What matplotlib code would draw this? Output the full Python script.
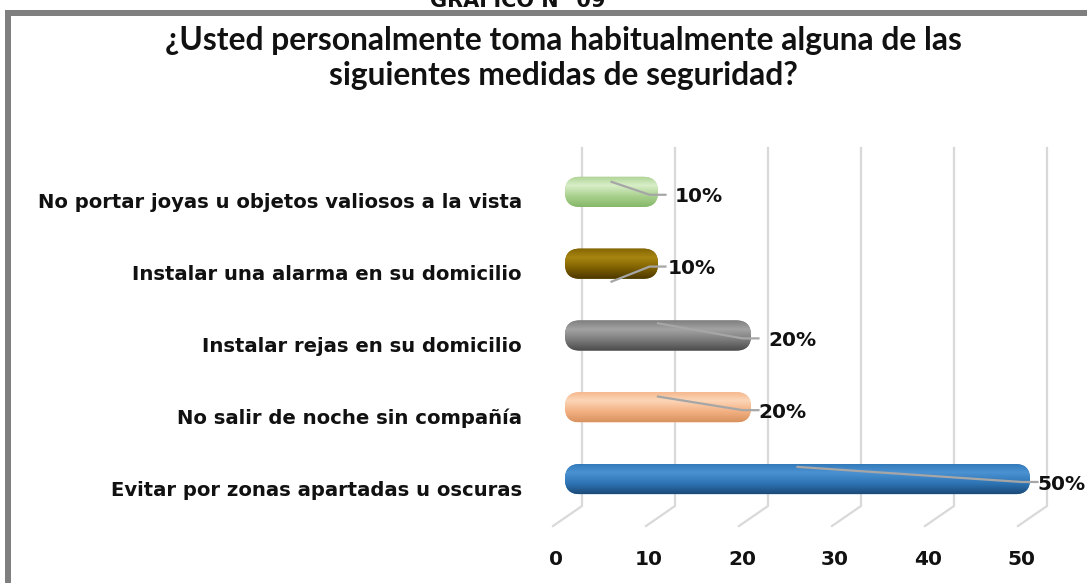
import numpy as np
import matplotlib
matplotlib.use("Agg")
import matplotlib.pyplot as plt
from matplotlib.patches import FancyBboxPatch, Rectangle
from matplotlib.transforms import ScaledTranslation, IdentityTransform
from matplotlib.colors import to_rgb

# ---------------- data ----------------
header = "GRÁFICO N° 09"
title = "¿Usted personalmente toma habitualmente alguna de las\nsiguientes medidas de seguridad?"
categories = [
    "No portar joyas u objetos valiosos a la vista",
    "Instalar una alarma en su domicilio",
    "Instalar rejas en su domicilio",
    "No salir de noche sin compañía",
    "Evitar por zonas apartadas u oscuras",
]
values = [10, 10, 20, 20, 50]
value_labels = ["10%", "10%", "20%", "20%", "50%"]
x_ticks = [0, 10, 20, 30, 40, 50]
x_tick_labels = ["0", "10", "20", "30", "40", "50"]

# ---------------- style ----------------
base_cols = ["#a9d08e", "#7f6000", "#7a7a7a", "#f4b183", "#2e75b6"]
light_cols = ["#d8eec8", "#a88612", "#a3a3a3", "#fcd6b8", "#4b92d3"]
dark_cols = ["#86b869", "#4a3800", "#4a4a4a", "#d9935f", "#1c4a78"]
leader_dy = [0.14, -0.25, 0.17, 0.15, 0.17]
label_dx_px = [17, 10, 17, 7, 7]

W, H, DPI = 1087, 583, 100
fig = plt.figure(figsize=(W / DPI, H / DPI), dpi=DPI)
fig.patch.set_facecolor("white")

# frame
fig.add_artist(Rectangle((8 / W, -0.1), 1.2, 1 - 13 / H + 0.1, transform=fig.transFigure,
                         fill=False, edgecolor="#7f7f7f", linewidth=6 * 72 / DPI, clip_on=False))

# clipped header + title
fig.text(518 / W, 1 - 7 / H, header, ha="center", va="baseline", fontsize=15,
         fontweight="bold", family="DejaVu Sans", color="#111111")
ttl = fig.text(563 / W, 1 - 58 / H, title, ha="center", va="center", fontsize=20,
               fontweight="bold", family="Lato", linespacing=1.25, color="#111111")

ax = fig.add_axes([565 / W, 1 - 515 / H, (1030 - 565) / W, (515 - 156) / H])
ax.set_xlim(0, 50)
ax.set_ylim(-0.5, 4.5)
ax.set_facecolor("none")
for s in ax.spines.values():
    s.set_visible(False)

ypos = np.arange(len(categories))[::-1]
bars = ax.barh(ypos, values, height=0.42, color="none", edgecolor="none")

fig.canvas.draw()
p0 = ax.transData.transform((0, 0))
sx = ax.transData.transform((1, 0))[0] - p0[0]
sy = ax.transData.transform((0, 1))[1] - p0[1]
aspect = sx / sy

# 3D-ish gridlines
for t in x_ticks:
    xd = ax.transData.transform((t, 0))[0]
    ax.plot([xd + 17, xd + 17, xd - 12], [H - 148, H - 506, H - 526], color="#d9d9d9",
            lw=1.6, transform=IdentityTransform(), clip_on=False, zorder=1)

# cylinder bars
for i, rect in enumerate(bars):
    x0, y0, w, h = rect.get_x(), rect.get_y(), rect.get_width(), rect.get_height()
    r = 0.97 * (h * sy / 2) / sx
    patch = FancyBboxPatch((x0, y0), w, h, boxstyle=f"round,pad=0,rounding_size={r}",
                           mutation_aspect=aspect, fc=base_cols[i], ec="none", zorder=3)
    ax.add_patch(patch)
    b, l, d = (np.array(to_rgb(c)) for c in (base_cols[i], light_cols[i], dark_cols[i]))
    pos = np.linspace(0, 1, 64)
    stops = [0, 0.3, 0.65, 1.0]
    cols = [b * 0.9 + l * 0.1, l, b, d]
    grad = np.stack([np.interp(pos, stops, [c[k] for c in cols]) for k in range(3)], axis=-1)
    im = ax.imshow(grad[:, None, :], extent=(x0, x0 + w, y0, y0 + h), aspect="auto",
                   origin="upper", interpolation="bilinear", zorder=3.5)
    im.set_clip_path(patch)
    rect.set_visible(False)

ax.set_xlim(0, 50)
ax.set_ylim(-0.5, 4.5)

# leader lines and value labels
for i, (y, v, lab) in enumerate(zip(ypos, values, value_labels)):
    ax.plot([v / 2, v - 0.9, v + 0.8], [y + leader_dy[i], y - 0.04, y - 0.04],
            color="#a6a6a6", lw=1.6, zorder=4, clip_on=False)
    ax.text(v, y, lab, ha="left", va="center", fontsize=14.5, fontweight="bold",
            color="#111111", family="DejaVu Sans", zorder=5,
            transform=ax.transData + ScaledTranslation(label_dx_px[i] / DPI, -5 / DPI,
                                                       fig.dpi_scale_trans))

# ticks
ax.set_xticks(x_ticks, x_tick_labels)
ax.set_yticks(ypos, categories)
ax.tick_params(axis="x", length=0, pad=25, labelsize=14.5, labelcolor="#111111")
ax.tick_params(axis="y", length=0, pad=31, labelsize=12.5, labelcolor="#111111")
for lab in ax.get_xticklabels():
    lab.set_fontweight("bold")
    lab.set_transform(lab.get_transform() + ScaledTranslation(-9 / DPI, 0, fig.dpi_scale_trans))
for lab in ax.get_yticklabels():
    lab.set_fontweight("bold")
    lab.set_transform(lab.get_transform() + ScaledTranslation(0, -9 / DPI, fig.dpi_scale_trans))

# fit title / label font sizes to the reference widths
fig.canvas.draw()
rend = fig.canvas.get_renderer()
first_line = title.split("\n")[0]
tmp = fig.text(0, 0, first_line, fontsize=20, fontweight="bold", family="Lato")
wt = tmp.get_window_extent(rend).width
tmp.remove()
ttl.set_fontsize(20 * 797 / wt)
yl = ax.get_yticklabels()[0]
wl = yl.get_window_extent(rend).width
ax.tick_params(axis="y", labelsize=12.5 * 487 / wl)

fig.savefig("out.png", dpi=DPI, facecolor="white")
